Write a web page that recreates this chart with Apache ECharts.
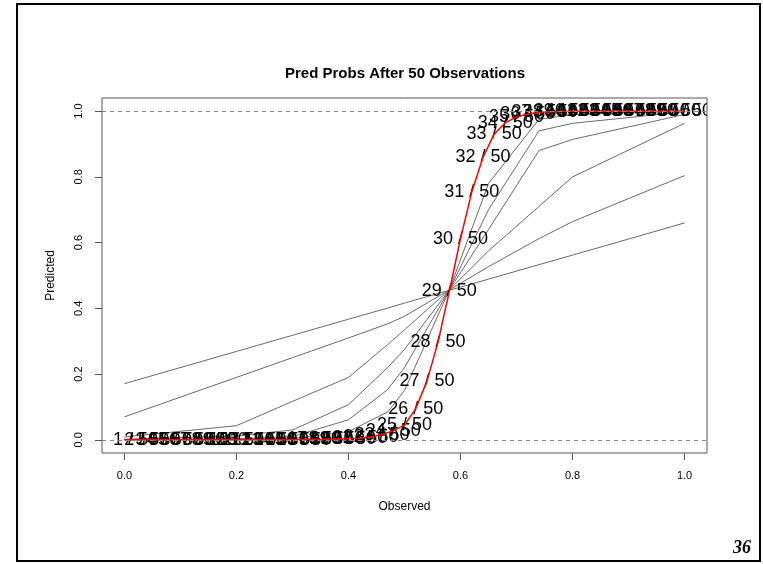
<!DOCTYPE html>
<html>
<head>
<meta charset="UTF-8">
<title>Pred Probs After 50 Observations</title>
<script src="https://cdn.jsdelivr.net/npm/echarts@6/dist/echarts.min.js"></script>
<style>
  html, body { margin: 0; padding: 0; background: #fff; }
  #main { width: 763px; height: 564px; }
</style>
</head>
<body>
<div id="main"></div>
<script type="text/javascript">
// total observations, and number of successes k = 0..50
var nObs = 50;
var successCounts = [0,1,2,3,4,5,6,7,8,9,10,11,12,13,14,15,16,17,18,19,20,
  21,22,23,24,25,26,27,28,29,30,31,32,33,34,35,36,37,38,39,40,
  41,42,43,44,45,46,47,48,49,50];
// red curve: predicted prob at x = k/50
var redProbs = [0,0,0,0,0,0,0,0,0,0,0.0001,
  0.0001,0.0002,0.0003,0.0004,0.0006,0.0008,0.0011,0.0015,0.0022,0.003,
  0.005,0.009,0.016,0.028,0.045,0.095,0.178,0.298,0.452,0.612,
  0.753,0.859,0.93,0.965,0.982,0.991,0.996,0.998,0.999,0.9995,
  0.9997,0.9998,0.9999,1,1,1,1,1,1,1];

// gray curves, sampled at grayX
var grayX = [0, 0.2, 0.3, 0.4, 0.47, 0.5, 0.58, 0.65, 0.74, 0.8, 1.0];
var grayLine1 = [0.171, 0.269, 0.318, 0.367, 0.401, 0.416, 0.455, 0.489, 0.533, 0.562, 0.660];
var grayLine2 = [0.070, 0.190, 0.250, 0.310, 0.353, 0.376, 0.456, 0.527, 0.612, 0.664, 0.804];
var grayLine3 = [0.009, 0.043, 0.117, 0.190, 0.290, 0.335, 0.456, 0.575, 0.710, 0.800, 0.963];
var grayLine4 = [0.002, 0.012, 0.030, 0.107, 0.220, 0.275, 0.456, 0.640, 0.880, 0.914, 0.990];
var grayLine5 = [0.000, 0.003, 0.010, 0.061, 0.153, 0.220, 0.456, 0.700, 0.940, 0.963, 0.998];
var grayLine6 = [0.000, 0.001, 0.004, 0.025, 0.085, 0.150, 0.456, 0.780, 0.975, 0.990, 1.000];

var xTicks = [0, 0.2, 0.4, 0.6, 0.8, 1.0];
var yTicks = [0, 0.2, 0.4, 0.6, 0.8, 1.0];
var refLevels = [0, 1];

var myChart = echarts.init(document.getElementById('main'));

function pairs(xs, ys) {
  var out = [];
  for (var i = 0; i < xs.length; i++) out.push([xs[i], ys[i]]);
  return out;
}

var grayLines = [grayLine1, grayLine2, grayLine3, grayLine4, grayLine5, grayLine6];
var series = [];
for (var g = 0; g < grayLines.length; g++) {
  var s = {
    type: 'line',
    data: pairs(grayX, grayLines[g]),
    symbol: 'none',
    silent: true,
    lineStyle: { color: '#6a6a6a', width: 1 },
    z: 2
  };
  if (g === 0) {
    s.markLine = {
      silent: true,
      symbol: 'none',
      label: { show: false },
      lineStyle: { type: [4, 4], color: '#888', width: 1 },
      data: refLevels.map(function (v) { return { yAxis: v }; })
    };
  }
  series.push(s);
}

var redX = successCounts.map(function (k) { return k / nObs; });

// "k / 50" labels placed on the red curve
var labelData = [];
for (var k = 1; k < successCounts.length; k++) {
  labelData.push([redX[k], redProbs[k], successCounts[k]]);
}
series.push({
  type: 'custom',
  clip: true,
  silent: true,
  encode: { x: 0, y: 1 },
  data: labelData,
  z: 3,
  renderItem: function (params, api) {
    var pt = api.coord([api.value(0), api.value(1)]);
    return {
      type: 'text',
      x: pt[0],
      y: pt[1],
      style: {
        text: api.value(2) + ' / ' + nObs,
        fill: '#000',
        fontSize: 18,
        fontFamily: 'Liberation Sans',
        align: 'center',
        verticalAlign: 'middle'
      }
    };
  }
});

series.push({
  type: 'line',
  data: pairs(redX, redProbs),
  symbol: 'none',
  smooth: false,
  silent: true,
  lineStyle: { color: '#ff0000', width: 1.5 },
  z: 4
});

var option = {
  animation: false,
  backgroundColor: '#fff',
  title: {
    text: 'Pred Probs After 50 Observations',
    left: 400,
    top: 61,
    textAlign: 'center',
    textStyle: { fontFamily: 'Liberation Sans', fontWeight: 'bold', fontSize: 15, color: '#000' }
  },
  grid: {
    left: 102, top: 98, width: 605, height: 355,
    show: true, borderColor: '#555', borderWidth: 1, backgroundColor: 'transparent'
  },
  xAxis: {
    type: 'value',
    min: -0.04, max: 1.04,
    name: 'Observed',
    nameLocation: 'middle',
    nameGap: 48,
    nameTextStyle: { fontFamily: 'Liberation Sans', fontSize: 12, color: '#000' },
    axisLine: { show: false, onZero: false },
    axisTick: { show: true, length: 7, customValues: xTicks, lineStyle: { color: '#555' } },
    axisLabel: {
      customValues: xTicks, margin: 17, fontFamily: 'Liberation Sans', fontSize: 11, color: '#000',
      formatter: function (v) { return v.toFixed(1); }
    },
    splitLine: { show: false }
  },
  yAxis: {
    type: 'value',
    min: -0.04, max: 1.04,
    name: 'Predicted',
    nameLocation: 'middle',
    nameGap: 45,
    nameRotate: 90,
    nameTextStyle: { fontFamily: 'Liberation Sans', fontSize: 12, color: '#000' },
    axisLine: { show: false, onZero: false },
    axisTick: { show: true, length: 7, customValues: yTicks, lineStyle: { color: '#555' } },
    axisLabel: {
      customValues: yTicks, margin: 18, rotate: 90, fontFamily: 'Liberation Sans', fontSize: 11, color: '#000',
      formatter: function (v) { return v.toFixed(1); }
    },
    splitLine: { show: false }
  },
  graphic: [
    {
      type: 'rect',
      shape: { x: 17, y: 4, width: 743, height: 557 },
      style: { fill: 'none', stroke: '#000', lineWidth: 2 },
      silent: true
    },
    {
      type: 'text',
      x: 751, y: 557,
      style: {
        text: '36', fill: '#000', fontFamily: 'Liberation Serif', fontSize: 18,
        fontStyle: 'italic', fontWeight: 'bold', align: 'right', verticalAlign: 'bottom'
      },
      silent: true
    }
  ],
  series: series
};

myChart.setOption(option);
</script>
</body>
</html>
